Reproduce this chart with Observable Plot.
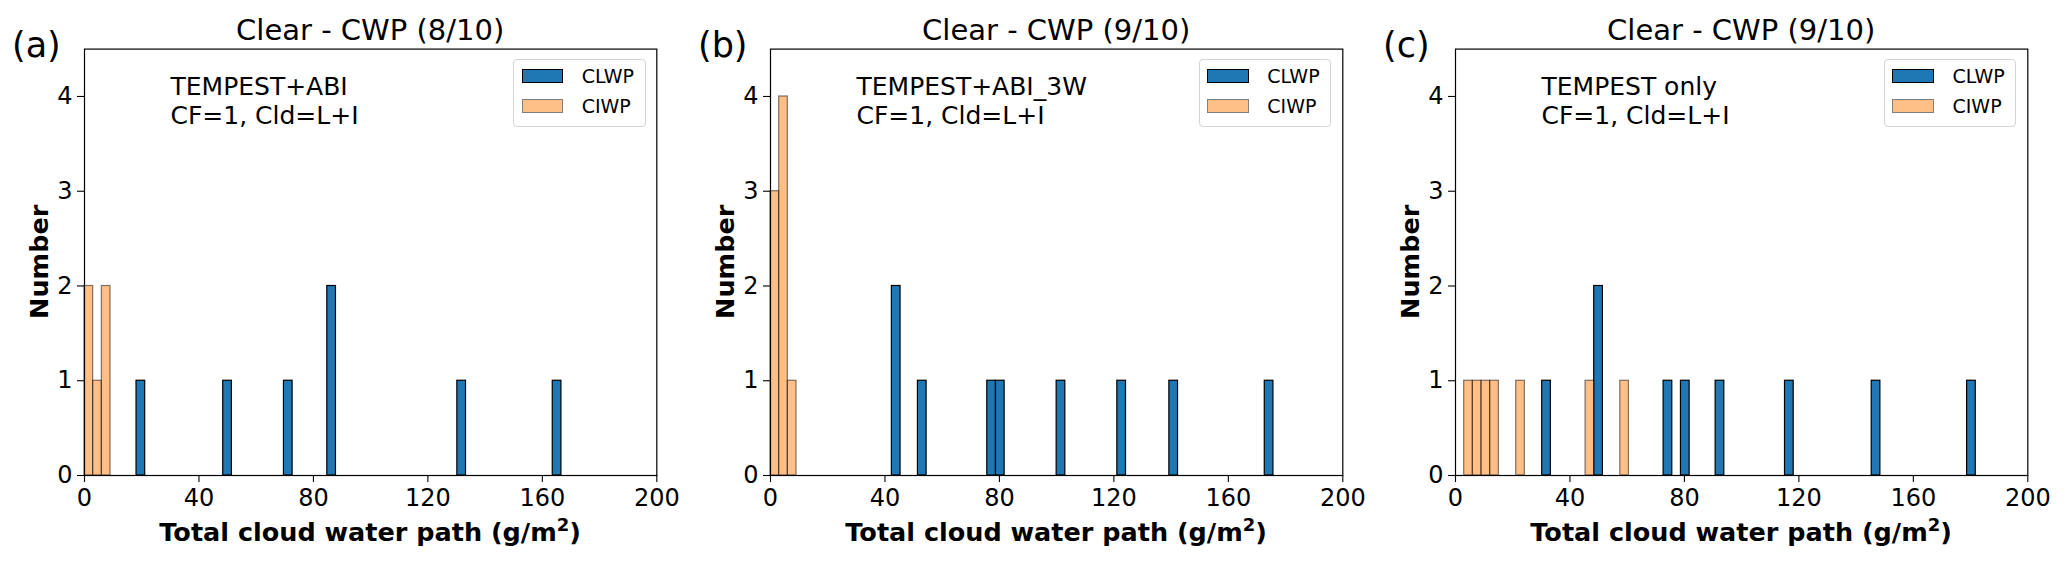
<!DOCTYPE html>
<html>
<head>
<meta charset="utf-8">
<script src="https://cdn.jsdelivr.net/npm/d3@7"></script>
<script src="https://cdn.jsdelivr.net/npm/@observablehq/plot@0.6"></script>
<style>
  body { margin: 0; background: #fff; }
  #chart { position: relative; width: 2067px; height: 565px; overflow: hidden; font-family: "DejaVu Sans", sans-serif; background: #fff; }
  .panel { position: absolute; top: 0; width: 685px; height: 565px; }
  .panel svg { position: absolute; left: 0; top: 0; overflow: visible; }
  .legend { position: absolute; left: 513.3px; top: 59.3px; width: 132.4px; height: 67.4px; box-sizing: border-box;
            border: 1px solid #d4d4d4; border-radius: 4px; background: rgba(255,255,255,0.85); }
  .row { position: absolute; left: 7.4px; height: 14.3px; display: flex; align-items: center; font-size: 19px; color: #000; white-space: nowrap; }
  .sw { width: 41.7px; height: 14.3px; box-sizing: border-box; margin-right: 18.3px; }
</style>
</head>
<body>
<div id="chart"></div>
<script>
// ---------- data ----------
const xTicks = [0, 40, 80, 120, 160, 200];
const yTicks = [0, 1, 2, 3, 4];
const panelLetters = ["(a)", "(b)", "(c)"];
const panelTitles = ["Clear - CWP (8/10)", "Clear - CWP (9/10)", "Clear - CWP (9/10)"];
const panelNotes = ["TEMPEST+ABI\nCF=1, Cld=L+I", "TEMPEST+ABI_3W\nCF=1, Cld=L+I", "TEMPEST only\nCF=1, Cld=L+I"];
const seriesNames = ["CLWP", "CIWP"];
const xLabelMain = "Total cloud water path (g/m";
const xLabelSup = "2";
const xLabelEnd = ")";
const yLabel = "Number";
const binWidth = 3.03; // g/m2, histogram bin width

// panel (a)
const clwpA_edges  = [18.18, 48.48, 69.70, 84.85, 130.30, 163.64];
const clwpA_counts = [1, 1, 1, 2, 1, 1];
const ciwpA_edges  = [0, 3.03, 6.06];
const ciwpA_counts = [2, 1, 2];
// panel (b)
const clwpB_edges  = [42.42, 51.52, 75.76, 78.79, 100.00, 121.21, 139.39, 172.73];
const clwpB_counts = [2, 1, 1, 1, 1, 1, 1, 1];
const ciwpB_edges  = [0, 3.03, 6.06];
const ciwpB_counts = [3, 4, 1];
// panel (c)
const clwpC_edges  = [30.30, 48.48, 72.73, 78.79, 90.91, 115.15, 145.45, 178.79];
const clwpC_counts = [1, 2, 1, 1, 1, 1, 1, 1];
const ciwpC_edges  = [3.03, 6.06, 9.09, 12.12, 21.21, 45.45, 57.58];
const ciwpC_counts = [1, 1, 1, 1, 1, 1, 1];

const panelData = [
  [[clwpA_edges, clwpA_counts], [ciwpA_edges, ciwpA_counts]],
  [[clwpB_edges, clwpB_counts], [ciwpB_edges, ciwpB_counts]],
  [[clwpC_edges, clwpC_counts], [ciwpC_edges, ciwpC_counts]]
];

// ---------- layout / style ----------
const panelLeft = [0, 685.6, 1370.8];
const W = 685, H = 565;
const mL = 84, mR = 28.7, mT = 48.6, mB = 90;
const blue = "#1f77b4", orange = "#ff7f0e";

const chart = document.getElementById("chart");

panelData.forEach((pd, i) => {
  const toRows = ([edges, counts], name) => edges.map((e, k) => ({series: name, x1: e, x2: e + binWidth, count: counts[k]}));
  const clwp = toRows(pd[0], seriesNames[0]);
  const ciwp = toRows(pd[1], seriesNames[1]);

  const svg = Plot.plot({
    width: W, height: H,
    marginLeft: mL, marginRight: mR, marginTop: mT, marginBottom: mB,
    x: {domain: [0, 200]},
    y: {domain: [0, 4.5]},
    style: {fontFamily: "DejaVu Sans", fontSize: "24px", color: "#000", background: "transparent", overflow: "visible"},
    marks: [
      Plot.rectY(clwp, {x1: "x1", x2: "x2", y1: 0, y2: "count", fill: blue, stroke: "#000", strokeWidth: 1.2, inset: 0}),
      Plot.rectY(ciwp, {x1: "x1", x2: "x2", y1: 0, y2: "count", fill: orange, fillOpacity: 0.5, stroke: "#000", strokeOpacity: 0.5, strokeWidth: 1.2, inset: 0}),
      Plot.text([panelNotes[i]], {text: d => d, frameAnchor: "top-left", dx: 86, dy: 25.5, lineAnchor: "top", textAnchor: "start",
                                  fontSize: 25, lineHeight: 1.15, fill: "#000"}),
      Plot.axisX({ticks: xTicks, tickSize: 7, tickPadding: 6, label: null, fontSize: 24, strokeWidth: 1.1, tickFormat: d3.format("d")}),
      Plot.axisY({ticks: yTicks, tickSize: 7, tickPadding: 5, label: null, fontSize: 24, strokeWidth: 1.1, tickFormat: d3.format("d")}),
      Plot.frame({stroke: "#000", strokeWidth: 1.2})
    ]
  });

  const s = d3.select(svg);
  const cx = mL + (W - mL - mR) / 2;
  s.append("text").attr("x", cx).attr("y", 40).attr("text-anchor", "middle")
    .style("font-family", "DejaVu Sans").style("font-size", "29px").attr("fill", "#000").text(panelTitles[i]);
  s.append("text").attr("x", 12).attr("y", 57).attr("text-anchor", "start")
    .style("font-family", "DejaVu Sans").style("font-size", "35px").attr("fill", "#000").text(panelLetters[i]);
  s.append("text").attr("transform", `translate(48,${(mT + (H - mB)) / 2}) rotate(-90)`).attr("text-anchor", "middle")
    .style("font-family", "DejaVu Sans").style("font-weight", "bold").style("font-size", "25.5px").attr("fill", "#000").text(yLabel);
  const xl = s.append("text").attr("x", cx).attr("y", 540.5).attr("text-anchor", "middle")
    .style("font-family", "DejaVu Sans").style("font-weight", "bold").style("font-size", "25.5px").attr("fill", "#000");
  xl.append("tspan").text(xLabelMain);
  xl.append("tspan").attr("dy", -10).style("font-size", "18px").text(xLabelSup);
  xl.append("tspan").attr("dy", 10).text(xLabelEnd);

  const panel = document.createElement("div");
  panel.className = "panel";
  panel.style.left = panelLeft[i] + "px";
  panel.appendChild(svg);

  const legend = document.createElement("div");
  legend.className = "legend";
  seriesNames.forEach((name, k) => {
    const row = document.createElement("div");
    row.className = "row";
    row.style.top = (k === 0 ? 8.7 : 38.7) + "px";
    const sw = document.createElement("span");
    sw.className = "sw";
    if (k === 0) { sw.style.background = blue; sw.style.border = "1.3px solid #000"; }
    else { sw.style.background = "#ffbf86"; sw.style.border = "1.3px solid #808080"; }
    row.appendChild(sw);
    const t = document.createElement("span");
    t.textContent = name;
    row.appendChild(t);
    legend.appendChild(row);
  });
  panel.appendChild(legend);
  chart.appendChild(panel);
});
</script>
</body>
</html>
